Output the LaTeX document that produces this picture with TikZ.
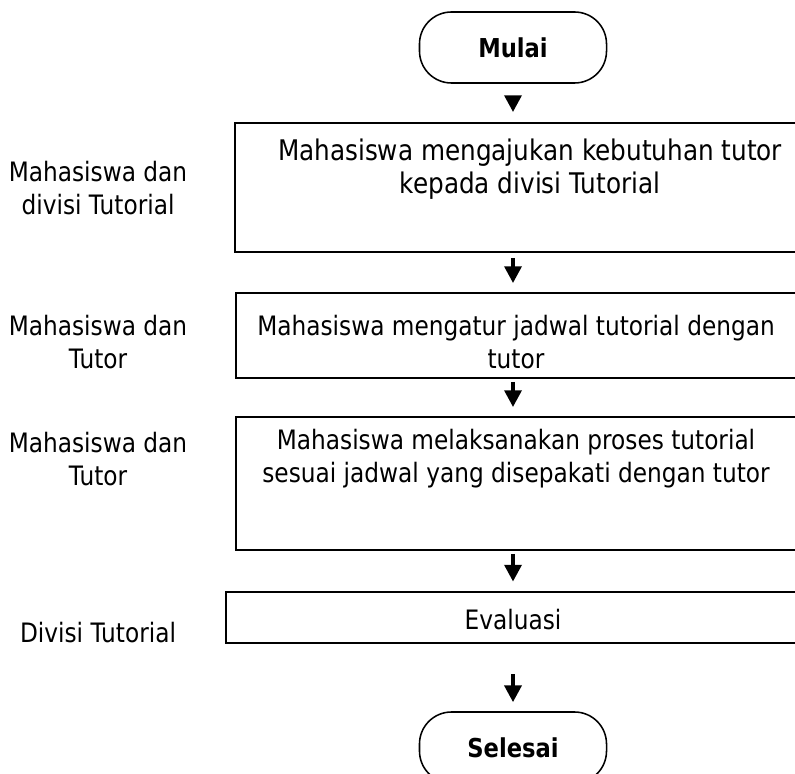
\documentclass[tikz,border=0pt]{standalone}
\usepackage{fontspec}
\setmainfont{DejaVu Sans}[FakeStretch=0.87]
\usetikzlibrary{arrows.meta}

\begin{document}
\begin{tikzpicture}[x=0.025cm,y=-0.025cm,
    txt/.style={align=center,inner sep=0pt,font=\fontsize{19}{23.5}\selectfont},
    terminal/.style={draw,line width=1.1pt,rounded corners=0.8cm,minimum width=4.675cm,
      minimum height=1.775cm,font=\fontsize{18.5}{23.5}\selectfont\bfseries},
    stepbox/.style={draw,line width=1.3pt,inner sep=0pt},
    flow/.style={-{Triangle[width=0.42cm,length=0.42cm]},line width=2.8pt}]
            \useasboundingbox (0,0) rectangle (795,774);
            \clip (0,0) rectangle (795,774);

            % terminals
            \node[terminal] (mulai) at (513,47.5) {Mulai};
            \node[terminal] (selesai) at (513,747.5) {Selesai};

            % process boxes
            \node[stepbox,minimum width=14.875cm,minimum height=3.225cm] (ajukan) at (532.5,187.5) {};
            \node[txt,font=\fontsize{20.2}{23.5}\selectfont] at (530,169) {Mahasiswa mengajukan kebutuhan tutor\\kepada divisi Tutorial};

            \node[stepbox,minimum width=14.85cm,minimum height=2.125cm] (atur) at (533,335.5) {};
            \node[txt] at (516,342) {Mahasiswa mengatur jadwal tutorial dengan\\tutor};

            \node[stepbox,minimum width=14.85cm,minimum height=3.325cm] (laksana) at (533,483.5) {};
            \node[txt] at (516,459) {Mahasiswa melaksanakan proses tutorial\\sesuai jadwal yang disepakati dengan tutor};

            \node[stepbox,line width=2pt,minimum width=15.1cm,minimum height=1.275cm] (evaluasi) at (528,617.5) {};
            \node[txt] at (513,620) {Evaluasi};

            % who does it
            \node[txt] (pj1) at (98,188.5) {Mahasiswa dan\\divisi Tutorial};
            \node[txt] (pj2) at (98,342) {Mahasiswa dan\\Tutor};
            \node[txt] (pj3) at (98,459) {Mahasiswa dan\\Tutor};
            \node[txt] (pj4) at (98,633) {Divisi Tutorial};

            % arrows
            \draw[flow,shorten <=0.3cm,shorten >=0.25cm] (mulai.south) -- (mulai.south |- ajukan.north);
            \draw[flow,shorten <=0.125cm,shorten >=0.225cm] (mulai.south |- ajukan.south) -- (mulai.south |- atur.north);
            \draw[flow,shorten <=0.075cm,shorten >=0.225cm] (mulai.south |- atur.south) -- (mulai.south |- laksana.north);
            \draw[flow,shorten <=0.075cm,shorten >=0.225cm] (mulai.south |- laksana.south) -- (mulai.south |- evaluasi.north);
            \draw[flow,shorten <=0.75cm,shorten >=0.225cm] (mulai.south |- evaluasi.south) -- (selesai.north);
        \end{tikzpicture}
\end{document}
